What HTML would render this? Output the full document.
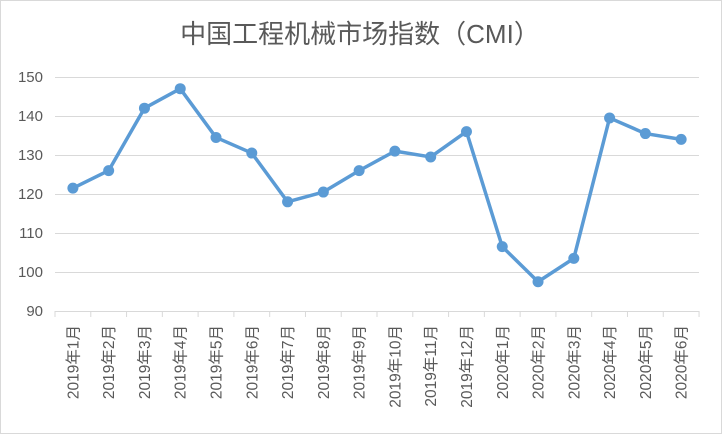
<!DOCTYPE html>
<html><head><meta charset="utf-8"><style>
body{margin:0;background:#fff}
svg text{font-family:"Liberation Sans","Noto Sans CJK SC",sans-serif;fill:#595959}
</style></head><body>
<svg width="722" height="434" xmlns="http://www.w3.org/2000/svg">
<rect x="0.5" y="0.5" width="721" height="433" fill="#fff" stroke="#d9d9d9"/>
<text x="360" y="43" font-size="26" text-anchor="middle">中国工程机械市场指数（CMI）</text>
<g stroke="#d9d9d9" stroke-width="1">
<line x1="55" x2="699" y1="77.5" y2="77.5"/>
<line x1="55" x2="699" y1="116.5" y2="116.5"/>
<line x1="55" x2="699" y1="155.5" y2="155.5"/>
<line x1="55" x2="699" y1="194.5" y2="194.5"/>
<line x1="55" x2="699" y1="233.5" y2="233.5"/>
<line x1="55" x2="699" y1="272.5" y2="272.5"/>
<line x1="55" x2="699" y1="311.5" y2="311.5"/>
</g>
<g font-size="15" text-anchor="end">
<text x="43" y="82">150</text><text x="43" y="121">140</text><text x="43" y="160">130</text>
<text x="43" y="199">120</text><text x="43" y="238">110</text><text x="43" y="277">100</text><text x="43" y="316">90</text>
</g>
<g id="ticks" stroke="#d9d9d9"></g>
<g id="labels" font-size="15.5"></g>
<polyline id="line" fill="none" stroke="#5b9bd5" stroke-width="3.5" stroke-linejoin="round"/>
<g id="dots" fill="#5b9bd5"></g>
</svg>
<script>
var v=[121.5,126,142,147,134.5,130.5,118,120.5,126,131,129.5,136,106.5,97.5,103.5,139.5,135.5,134];
var lab=["2019年1月","2019年2月","2019年3月","2019年4月","2019年5月","2019年6月","2019年7月","2019年8月","2019年9月","2019年10月","2019年11月","2019年12月","2020年1月","2020年2月","2020年3月","2020年4月","2020年5月","2020年6月"];
var ns="http://www.w3.org/2000/svg",pts=[],s=35.78;
var T=document.getElementById('ticks'),L=document.getElementById('labels'),D=document.getElementById('dots');
for(var i=0;i<=18;i++){var t=document.createElementNS(ns,'line');var x=55+i*s;t.setAttribute('x1',x);t.setAttribute('x2',x);t.setAttribute('y1',311);t.setAttribute('y2',317);T.appendChild(t);}
v.forEach(function(d,i){var x=55+s*(i+0.5),y=311-(d-90)*3.9;pts.push(x+','+y);
var c=document.createElementNS(ns,'circle');c.setAttribute('cx',x);c.setAttribute('cy',y);c.setAttribute('r',5.5);D.appendChild(c);
var t=document.createElementNS(ns,'text');t.setAttribute('transform','translate('+(x+5.5)+',325) rotate(-90)');t.setAttribute('text-anchor','end');t.textContent=lab[i];L.appendChild(t);});
document.getElementById('line').setAttribute('points',pts.join(' '));
</script>
</body></html>
